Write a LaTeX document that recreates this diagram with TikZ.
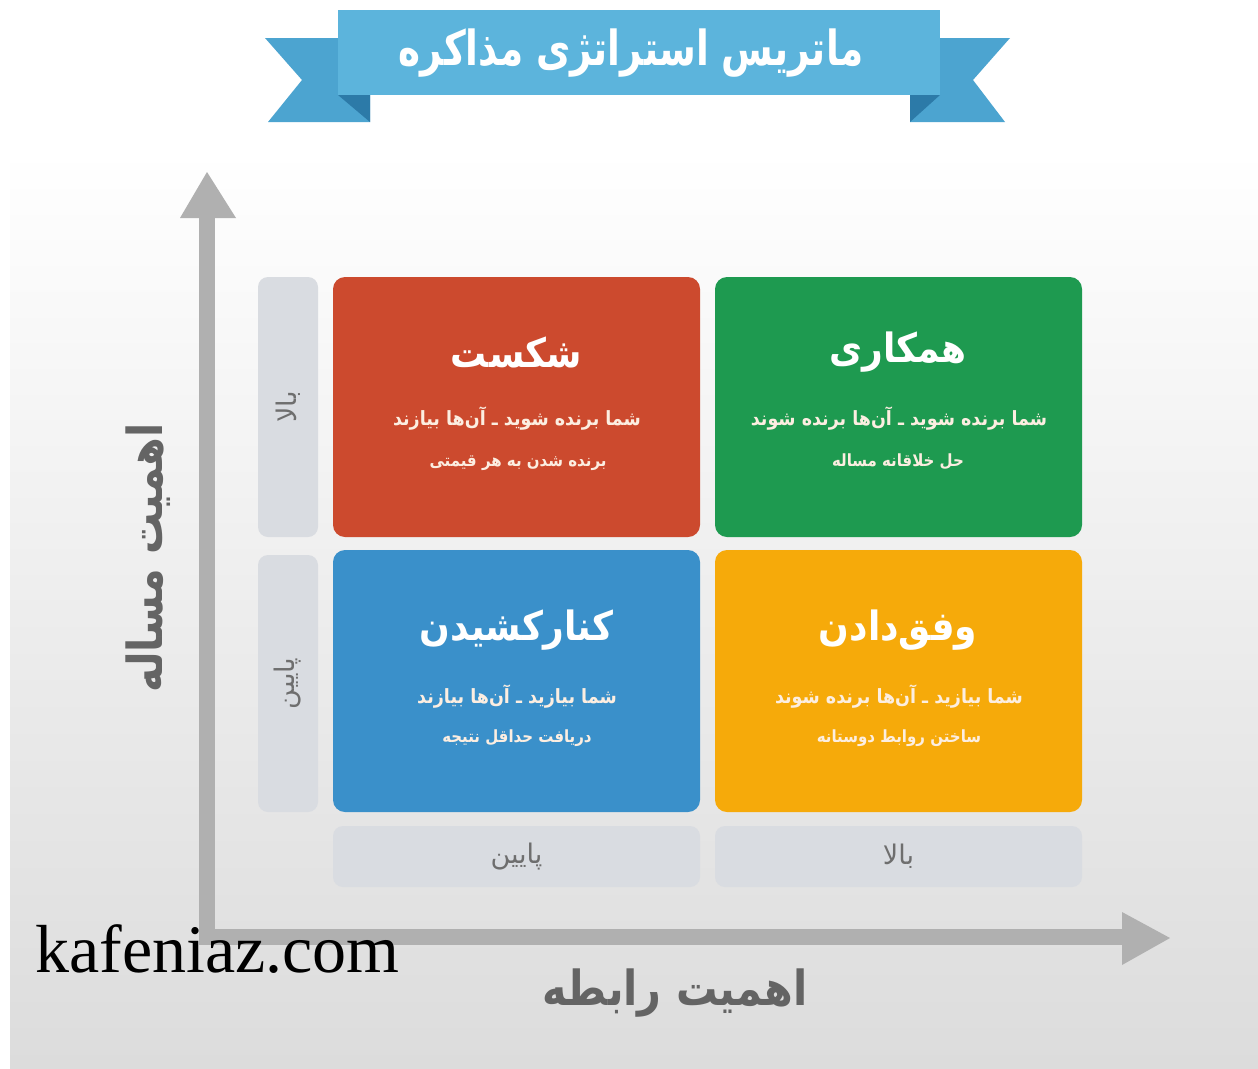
\documentclass[tikz,border=0pt]{standalone}
\usepackage{fontspec}
\setmainfont{Liberation Serif}
\newfontfamily\fa[Script=Arabic]{DejaVu Sans}
\TeXXeTstate=1
\newcommand{\rtl}[1]{\beginR #1\endR}
\newcommand{\tallrtl}[1]{\scalebox{1}[1.12]{\beginR #1\endR}}
\newcommand{\narrowrtl}[1]{\scalebox{0.9}[1.05]{\beginR #1\endR}}
\newcommand{\fsz}[1]{\fontsize{#1}{#1}\selectfont}

\definecolor{redc}{RGB}{204,74,46}
\definecolor{greenc}{RGB}{30,154,80}
\definecolor{bluec}{RGB}{58,144,202}
\definecolor{orangec}{RGB}{246,170,10}
\definecolor{lblgray}{RGB}{217,220,225}
\definecolor{axisgray}{RGB}{176,176,176}
\definecolor{lbltext}{RGB}{110,110,110}
\definecolor{axtext}{RGB}{100,100,100}
\definecolor{ribbon}{RGB}{92,180,220}
\definecolor{ribbontail}{RGB}{76,164,208}
\definecolor{ribbonfold}{RGB}{44,122,168}
\definecolor{subtext}{RGB}{252,238,225}
\definecolor{panelbot}{RGB}{220,220,220}

\tikzset{
  cell/.style={rounded corners=12pt, inner sep=0pt, draw=none},
  lblbox/.style={rounded corners=10pt, fill=lblgray, inner sep=0pt},
  celltitle/.style={text=white, font=\fa\bfseries\fsz{36}, inner sep=0pt},
  cellline/.style={text=subtext, font=\fa\bfseries\fsz{17.5}, inner sep=0pt},
  cellnote/.style={text=subtext, font=\fa\bfseries\fsz{15}, inner sep=0pt},
  lbltxt/.style={text=lbltext, font=\fa\fsz{27}, inner sep=0pt},
  axlabel/.style={text=axtext, font=\fa\bfseries\fsz{46}, inner sep=0pt},
}

\begin{document}
\begin{tikzpicture}[x=1pt,y=-1pt]
\useasboundingbox (0,0) rectangle (1258,1068);
\fill[white] (0,0) rectangle (1258,1068);
% background panel
\shade[top color=white, bottom color=panelbot, middle color=white!93!black]
  (10,150) rectangle (1258,1068);

% title ribbon
\fill[ribbontail] (265,38) -- (370,38) -- (370,122) -- (268,122) -- (302,80) -- cycle;
\fill[ribbontail] (1010,38) -- (910,38) -- (910,122) -- (1005,122) -- (973,80) -- cycle;
\fill[ribbonfold] (338,95) -- (370,95) -- (370,122) -- cycle;
\fill[ribbonfold] (940,95) -- (910,95) -- (910,122) -- cycle;
\node[fill=ribbon, minimum width=602pt, minimum height=85pt, inner sep=0pt] (ribbon) at (639,52.5) {};
\node[text=white, font=\fa\bfseries\fsz{42}, inner sep=0pt] (title) at (631,53)
  {\scalebox{0.89}[1.15]{\rtl{ماتریس استراتژی مذاکره}}};

% axes
\fill[axisgray] (199,215) rectangle (215,945);
\fill[axisgray] (180,218) -- (207,172) -- (236,218) -- cycle;
\fill[axisgray] (199,929) rectangle (1124,945);
\fill[axisgray] (1122,912) -- (1170,938) -- (1122,965) -- cycle;
\coordinate (origin) at (207,937);

% quadrants
\node[cell, fill=redc, minimum width=367pt, minimum height=260pt] (compete) at (516.5,407) {};
\node[cell, fill=greenc, minimum width=367pt, minimum height=260pt] (collab) at (898.5,407) {};
\node[cell, fill=bluec, minimum width=367pt, minimum height=262pt] (avoid) at (516.5,681) {};
\node[cell, fill=orangec, minimum width=367pt, minimum height=262pt] (accom) at (898.5,681) {};

\node[celltitle] (competeT) at (516.5,352) {\tallrtl{شکست}};
\node[cellline] (competeA) at (517,419) {\tallrtl{شما برنده شوید ـ آن‌ها بیازند}};
\node[cellnote] (competeB) at (518,463) {\tallrtl{برنده شدن به هر قیمتی}};

\node[celltitle] (collabT) at (898,352) {\tallrtl{همکاری}};
\node[cellline] (collabA) at (899,419) {\tallrtl{شما برنده شوید ـ آن‌ها برنده شوند}};
\node[cellnote] (collabB) at (898,462) {\tallrtl{حل خلاقانه مساله}};

\node[celltitle] (avoidT) at (516.5,630) {\tallrtl{کنارکشیدن}};
\node[cellline] (avoidA) at (517,697) {\tallrtl{شما بیازید ـ آن‌ها بیازند}};
\node[cellnote] (avoidB) at (517,738) {\tallrtl{دریافت حداقل نتیجه}};

\node[celltitle] (accomT) at (898,630) {\tallrtl{وفق‌دادن}};
\node[cellline] (accomA) at (899,697) {\tallrtl{شما بیازید ـ آن‌ها برنده شوند}};
\node[cellnote] (accomB) at (899,738) {\tallrtl{ساختن روابط دوستانه}};

% row labels
\node[lblbox, minimum width=60pt, minimum height=260pt] (rowHigh) at (288,407) {};
\node[lblbox, minimum width=60pt, minimum height=257pt] (rowLow) at (288,683.5) {};
\node[lbltxt, rotate=90] at (rowHigh) {\rtl{بالا}};
\node[lbltxt, rotate=90] at (rowLow) {\rtl{پایین}};

% column labels
\node[lblbox, minimum width=367pt, minimum height=61pt] (colLow) at (516.5,856.5) {};
\node[lblbox, minimum width=367pt, minimum height=61pt] (colHigh) at (898.5,856.5) {};
\node[lbltxt] at (colLow) {\rtl{پایین}};
\node[lbltxt] at (colHigh) {\rtl{بالا}};

% axis titles
\node[axlabel, rotate=90] (ylabel) at (148,558) {\narrowrtl{اهمیت مساله}};
\node[axlabel] (xlabel) at (675,993) {\narrowrtl{اهمیت رابطه}};

% site name
\node[anchor=base west, inner sep=0pt, font=\fsz{68}] (site) at (35,972) {kafeniaz.com};
\end{tikzpicture}
\end{document}
